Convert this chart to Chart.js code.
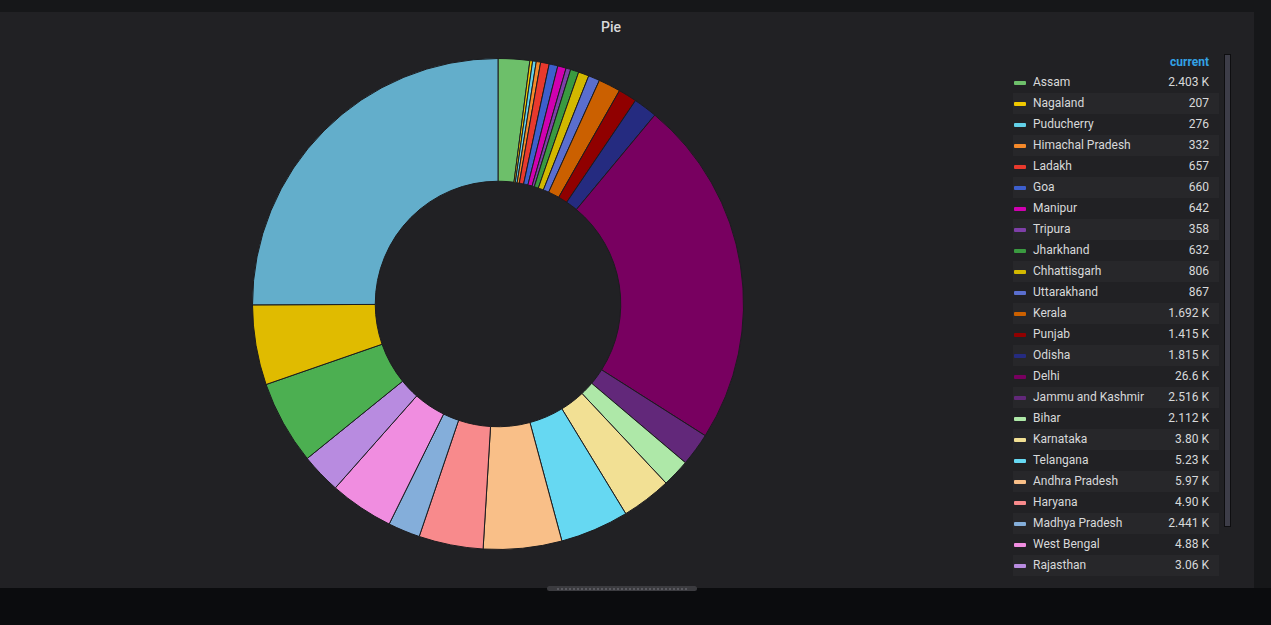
<!DOCTYPE html>
<html>
<head>
<meta charset="utf-8">
<script src="https://cdn.jsdelivr.net/npm/chart.js@4.4.0/dist/chart.umd.min.js"></script>
<style>
  html, body { margin:0; padding:0; width:1271px; height:625px; overflow:hidden; background:#161719; font-family: Roboto, "Open Sans", sans-serif; }
  #panel { position:absolute; left:0; top:12px; width:1254px; height:576px; background:#212124; }
  #bottom { position:absolute; left:0; top:588px; width:1271px; height:37px; background:#0b0c0e; }
  #handle { position:absolute; left:547px; top:586px; width:150px; height:5px; border-radius:3px;
            background:#3b3b3f; }
  #handle:after { content:""; position:absolute; left:10px; right:10px; top:2px; height:2px;
            background:repeating-linear-gradient(90deg, #5a5a60 0 2px, transparent 2px 4px); }
  #title { position:absolute; left:0; width:1222px; top:19px; text-align:center; color:#d8d9da; font-size:14px; font-weight:500; }
  #chartBox { position:absolute; left:252px; top:58px; width:492px; height:492px; }
  #legendHead { position:absolute; left:1013px; top:55px; width:196px; text-align:right; color:#33a2e5; font-size:12px; font-weight:700; }
  #legend { position:absolute; left:1013px; top:72px; width:206px; height:504px; overflow:hidden; }
  .row { height:21px; line-height:21px; position:relative; font-size:12px; color:#d8d9da; }
  .row.alt { background:#27272a; }
  .sw { position:absolute; left:1px; top:9px; width:12px; height:4px; border-radius:1px; }
  .lb { position:absolute; left:20px; }
  .vl { position:absolute; right:10px; }
  #scroll { position:absolute; left:1224px; top:54px; width:5px; height:471px; background:#3d3d48; border:1px solid #0e0e10; }
</style>
</head>
<body>
<div id="panel"></div>
<div id="bottom"></div>
<div id="handle"></div>
<div id="title">Pie</div>
<div id="chartBox"><canvas id="c"></canvas></div>
<div id="legendHead">current</div>
<div id="legend"></div>
<div id="scroll"></div>
<script>
const states = ['Assam','Nagaland','Puducherry','Himachal Pradesh','Ladakh','Goa','Manipur','Tripura','Jharkhand','Chhattisgarh','Uttarakhand','Kerala','Punjab','Odisha','Delhi','Jammu and Kashmir','Bihar','Karnataka','Telangana','Andhra Pradesh','Haryana','Madhya Pradesh','West Bengal','Rajasthan','Uttar Pradesh','Gujarat','Maharashtra'];
const values = [2403, 207, 276, 332, 657, 660, 642, 358, 632, 806, 867, 1692, 1415, 1815, 26600, 2516, 2112, 3800, 5230, 5970, 4900, 2441, 4880, 3060, 6380, 6090, 29000];
const valueLabels = ['2.403 K','207','276','332','657','660','642','358','632','806','867','1.692 K','1.415 K','1.815 K','26.6 K','2.516 K','2.112 K','3.80 K','5.23 K','5.97 K','4.90 K','2.441 K','4.88 K','3.06 K','6.38 K','6.09 K','29.0 K'];
const palette = ['#6DBF6A','#F0C800','#62D0E8','#F5892A','#E8392D','#3D5FCD','#D000B0','#7E3FA8','#3A9A40','#D2B800','#5A6ECE','#CB6000','#900000','#252B80','#780060','#62287A','#AEE8A8','#F2E094','#66D8F2','#F9BF88','#F88A8C','#84AEDA','#F08DE0','#B88BE0','#4CAF51','#E0BB00','#63AECB'];

const lg = document.getElementById('legend');
states.forEach((s, i) => {
  const r = document.createElement('div');
  r.className = 'row' + (i % 2 ? ' alt' : '');
  r.innerHTML = '<span class="sw" style="background:' + palette[i] + '"></span><span class="lb">' + s + '</span><span class="vl">' + valueLabels[i] + '</span>';
  lg.appendChild(r);
});

new Chart(document.getElementById('c'), {
  type: 'doughnut',
  data: {
    labels: states,
    datasets: [{ data: values, backgroundColor: palette, borderColor: '#1c1c1f', borderWidth: 1 }]
  },
  options: {
    responsive: true,
    maintainAspectRatio: false,
    animation: false,
    cutout: '50%',
    layout: { padding: 0 },
    plugins: { legend: { display: false }, tooltip: { enabled: false }, title: { display: false } }
  }
});
</script>
</body>
</html>
